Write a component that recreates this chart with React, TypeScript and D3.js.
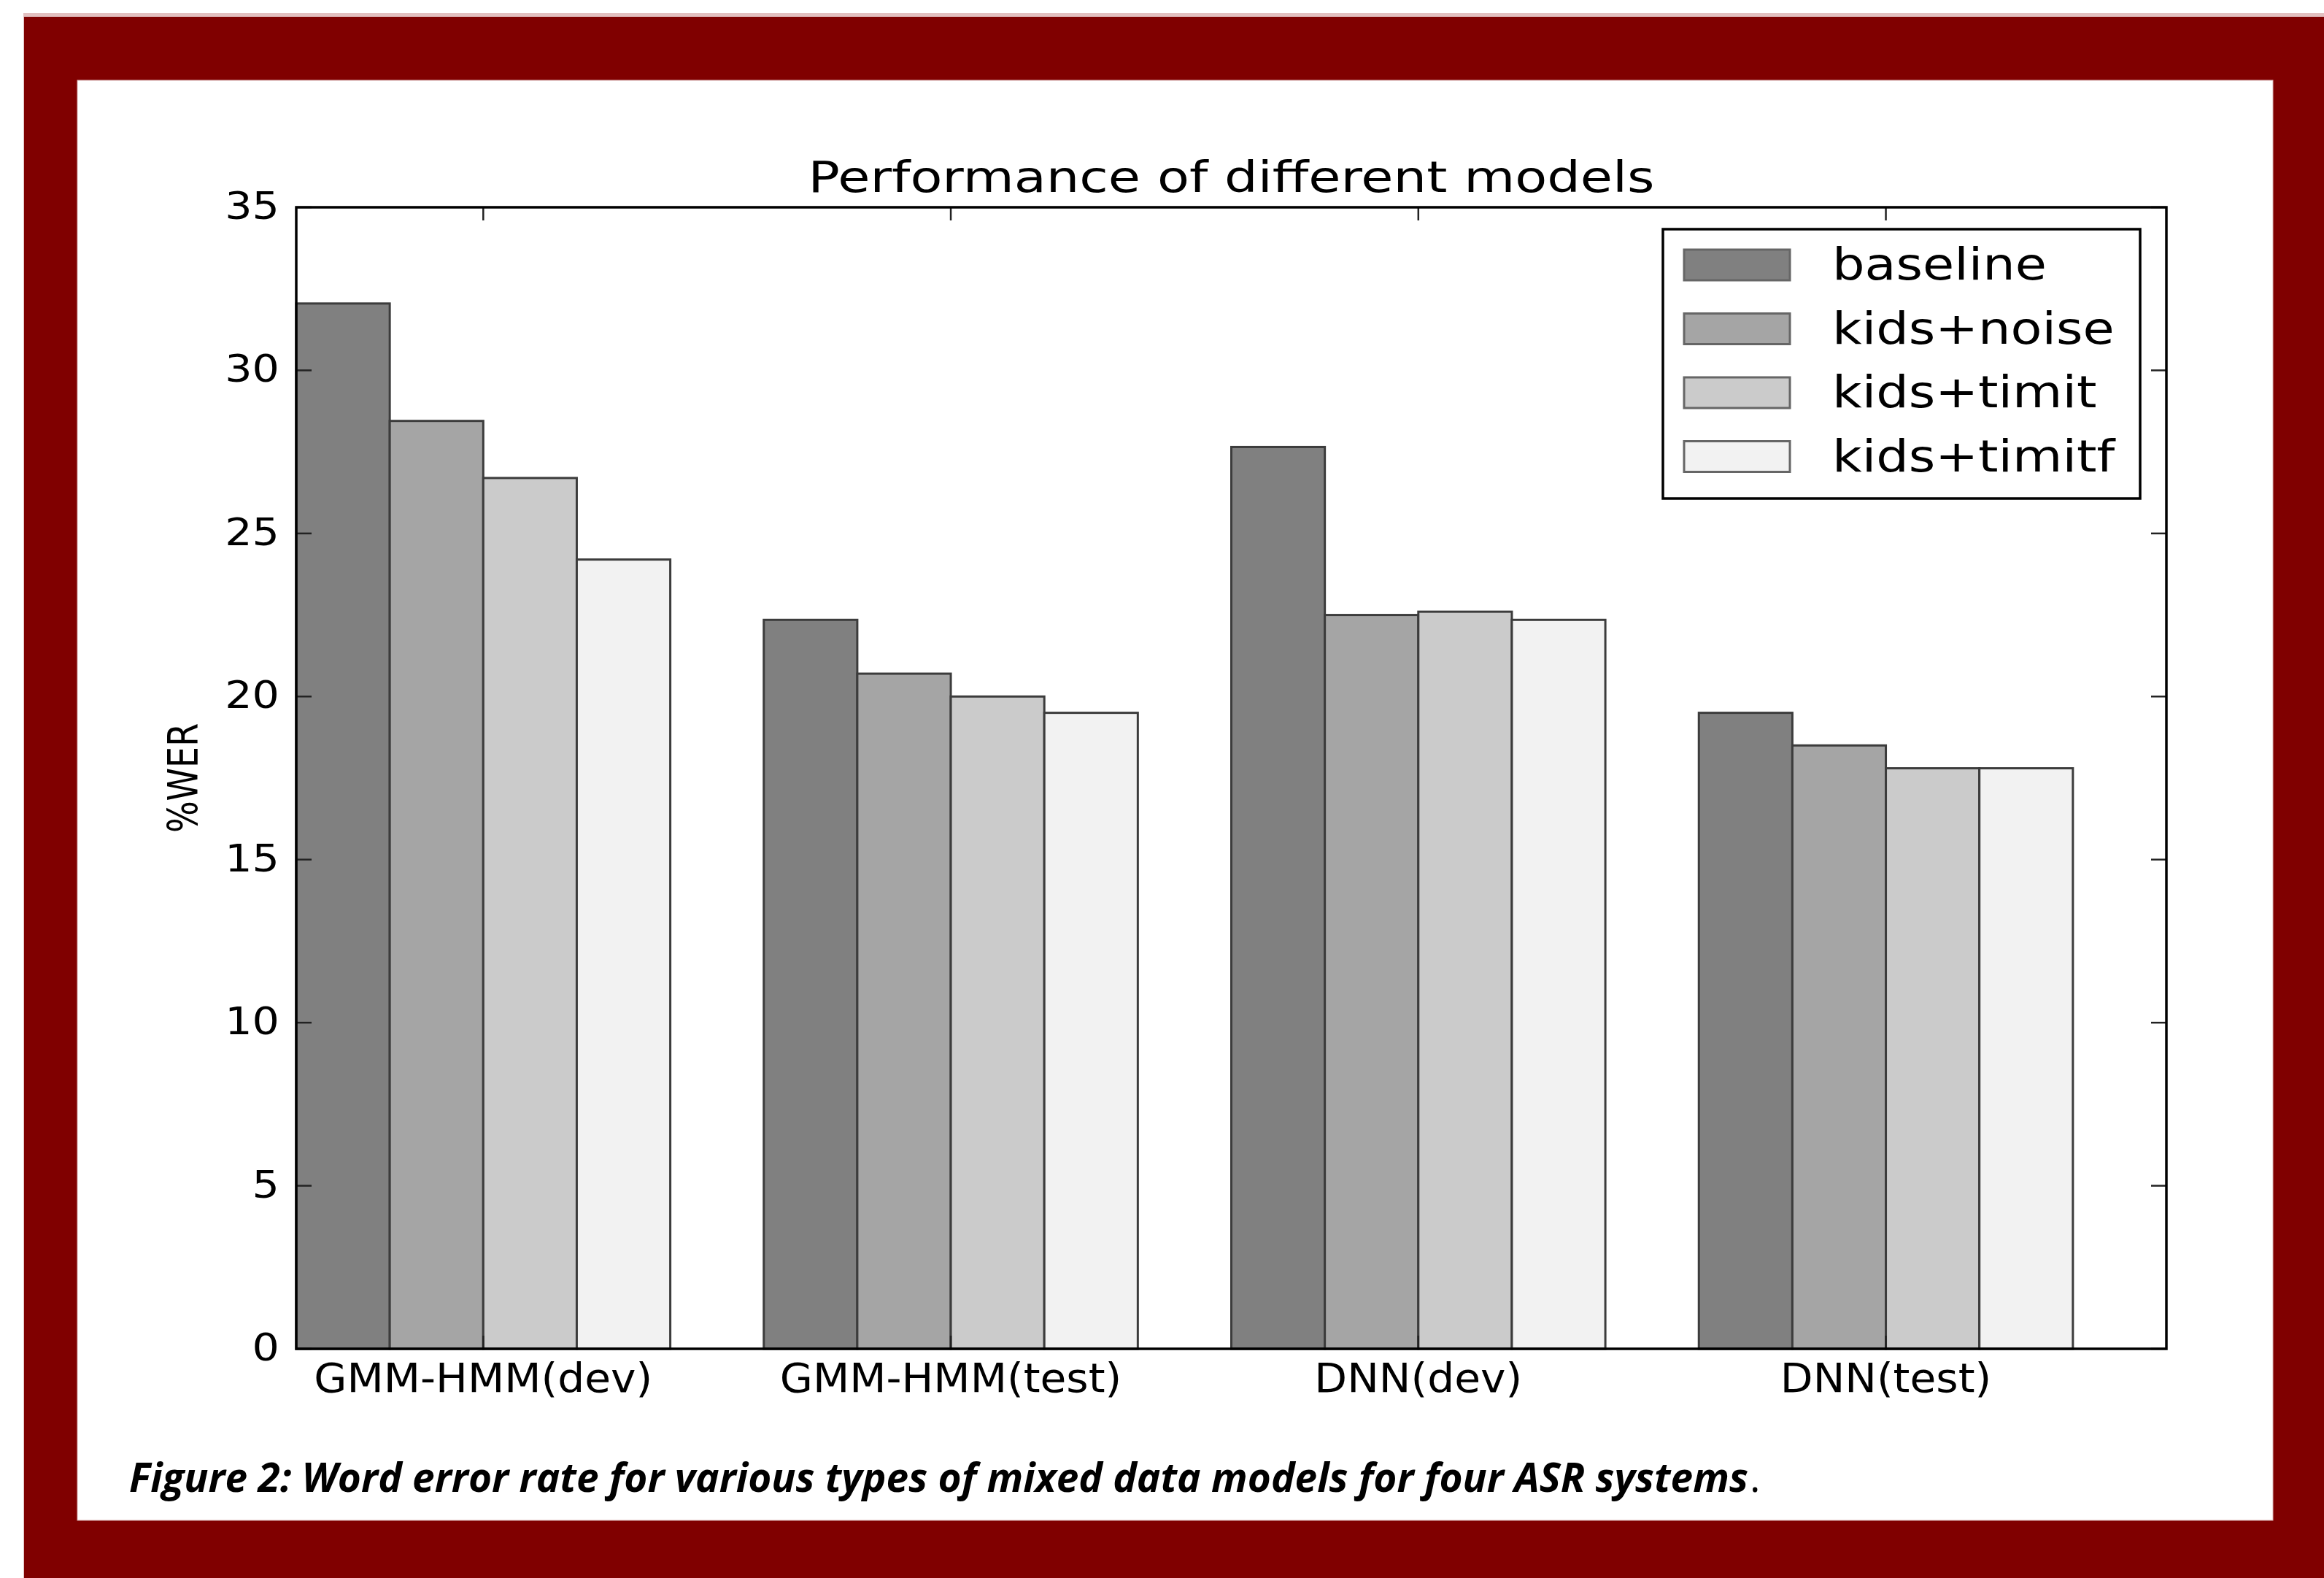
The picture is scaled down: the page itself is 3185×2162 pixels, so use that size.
import React from "react";
import * as d3 from "d3";

const groups = ["GMM-HMM(dev)", "GMM-HMM(test)", "DNN(dev)", "DNN(test)"];
const seriesNames = ["baseline", "kids+noise", "kids+timit", "kids+timitf"];
const baseline = [32.05, 22.35, 27.65, 19.5];
const kidsNoise = [28.45, 20.7, 22.5, 18.5];
const kidsTimit = [26.7, 20.0, 22.6, 17.8];
const kidsTimitf = [24.2, 19.5, 22.35, 17.8];
const yTicks = [0, 5, 10, 15, 20, 25, 30, 35];
const seriesColors = ["#808080", "#a5a5a5", "#cbcbcb", "#f2f2f2"];

const titleText = "Performance of different models";
const yLabel = "%WER";
const captionText =
  "Figure 2: Word error rate for various types of mixed data models for four ASR systems";

class WerChart extends React.Component {
  constructor(props: any) {
    super(props);
    this.createChart = this.createChart.bind(this);
  }

  componentDidMount() {
    this.createChart();
  }

  render() {
    return (
      <div
        id="werChart"
        style={{ position: "absolute", left: 0, top: 0 }}
      ></div>
    );
  }

  createChart() {
    var width = 3185,
      height = 2162;

    var plot = { left: 406, right: 2969, top: 284, bottom: 1848 };

    d3.select("#werChart").selectAll("*").remove();

    var svg = d3
      .select("#werChart")
      .append("svg")
      .attr("width", width)
      .attr("height", height)
      .style("display", "block");

    // page + maroon frame
    svg.append("rect").attr("width", width).attr("height", height).attr("fill", "#ffffff");
    svg
      .append("rect")
      .attr("x", 32)
      .attr("y", 18)
      .attr("width", width - 32)
      .attr("height", height - 18)
      .attr("fill", "#e2c0c0");
    svg
      .append("rect")
      .attr("x", 33)
      .attr("y", 23)
      .attr("width", width - 33)
      .attr("height", height - 23)
      .attr("fill", "#800000");
    svg
      .append("rect")
      .attr("x", 106)
      .attr("y", 110)
      .attr("width", 3115 - 106)
      .attr("height", 2083 - 110)
      .attr("fill", "#ffffff")
      .attr("stroke", "#d8b0b0")
      .attr("stroke-width", 1);

    var x = d3.scaleLinear().domain([0, groups.length]).range([plot.left, plot.right]);
    var y = d3.scaleLinear().domain([0, 35]).range([plot.bottom, plot.top]);
    var barWidth = 0.2;

    var series = [baseline, kidsNoise, kidsTimit, kidsTimitf];

    // bars
    series.forEach(function (values, s) {
      svg
        .append("g")
        .selectAll("rect")
        .data(values)
        .enter()
        .append("rect")
        .attr("x", function (d: any, i: number) {
          return x(i + s * barWidth);
        })
        .attr("y", function (d: any) {
          return y(d);
        })
        .attr("width", x(barWidth) - x(0))
        .attr("height", function (d: any) {
          return y(0) - y(d);
        })
        .attr("fill", seriesColors[s])
        .attr("stroke", "#3c3c3c")
        .attr("stroke-width", 3);
    });

    // ticks (inside, matplotlib classic)
    var tickLen = 21;
    var ticks = svg.append("g").attr("stroke", "#222").attr("stroke-width", 2.5);
    yTicks.forEach(function (t) {
      ticks.append("line").attr("x1", plot.left).attr("x2", plot.left + tickLen).attr("y1", y(t)).attr("y2", y(t));
      ticks.append("line").attr("x1", plot.right).attr("x2", plot.right - tickLen).attr("y1", y(t)).attr("y2", y(t));
    });
    groups.forEach(function (g, i) {
      var cx = x(i + 0.4);
      ticks.append("line").attr("x1", cx).attr("x2", cx).attr("y1", plot.top).attr("y2", plot.top + 18);
      ticks.append("line").attr("x1", cx).attr("x2", cx).attr("y1", plot.bottom).attr("y2", plot.bottom - 18);
    });

    // spines
    svg
      .append("rect")
      .attr("x", plot.left)
      .attr("y", plot.top)
      .attr("width", plot.right - plot.left)
      .attr("height", plot.bottom - plot.top)
      .attr("fill", "none")
      .attr("stroke", "#000")
      .attr("stroke-width", 3.5);

    var font = "'DejaVu Sans', sans-serif";

    // y tick labels
    yTicks.forEach(function (t) {
      svg
        .append("text")
        .attr("transform", "translate(383," + (y(t) + 16) + ") scale(1.13,1)")
        .attr("text-anchor", "end")
        .style("font-family", font)
        .style("font-size", "52px")
        .style("fill", "#000")
        .text(String(t));
    });

    // x labels
    groups.forEach(function (g, i) {
      svg
        .append("text")
        .attr("transform", "translate(" + x(i + 0.4) + ",1907) scale(1.06,1)")
        .attr("text-anchor", "middle")
        .style("font-family", font)
        .style("font-size", "55px")
        .style("fill", "#000")
        .text(g);
    });

    // title
    svg
      .append("text")
      .attr("x", (plot.left + plot.right) / 2)
      .attr("y", 263)
      .attr("text-anchor", "middle")
      .attr("textLength", 1160)
      .attr("lengthAdjust", "spacingAndGlyphs")
      .style("font-family", font)
      .style("font-size", "58px")
      .style("fill", "#000")
      .text(titleText);

    // y axis label
    svg
      .append("text")
      .attr("transform", "translate(271," + (plot.top + plot.bottom) / 2 + ") scale(1.25,1) rotate(-90)")
      .attr("text-anchor", "middle")
      .style("font-family", font)
      .style("font-size", "46px")
      .style("fill", "#000")
      .text(yLabel);

    // legend
    var legend = svg.append("g");
    legend
      .append("rect")
      .attr("x", 2279)
      .attr("y", 314)
      .attr("width", 2933 - 2279)
      .attr("height", 683 - 314)
      .attr("fill", "#fff")
      .attr("stroke", "#000")
      .attr("stroke-width", 3.5);
    seriesNames.forEach(function (name, s) {
      var cy = 363 + s * 87.5;
      legend
        .append("rect")
        .attr("x", 2308)
        .attr("y", cy - 21)
        .attr("width", 145)
        .attr("height", 42)
        .attr("fill", seriesColors[s])
        .attr("stroke", "#666")
        .attr("stroke-width", 3);
      legend
        .append("text")
        .attr("transform", "translate(2511," + (cy + 20) + ") scale(1.17,1)")
        .style("font-family", font)
        .style("font-size", "60px")
        .style("fill", "#000")
        .text(name);
    });

    // caption
    svg
      .append("text")
      .attr("x", 177)
      .attr("y", 2044)
      .attr("textLength", 2219)
      .attr("lengthAdjust", "spacingAndGlyphs")
      .style("font-family", "'Open Sans', 'Noto Sans', sans-serif")
      .style("font-size", "55px")
      .style("font-weight", "bold")
      .style("font-style", "italic")
      .style("fill", "#000")
      .text(captionText);
    svg
      .append("text")
      .attr("x", 2398)
      .attr("y", 2044)
      .style("font-family", "'Open Sans', 'Noto Sans', sans-serif")
      .style("font-size", "55px")
      .style("fill", "#000")
      .text(".");
  }
}

export default function App() {
  return <WerChart />;
}
